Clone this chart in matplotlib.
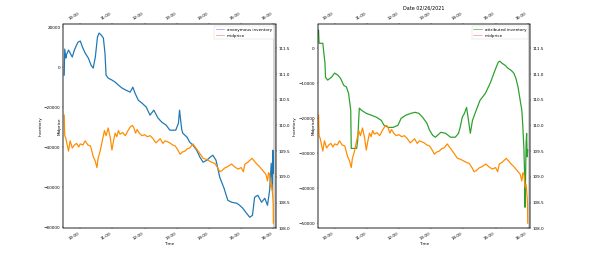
import matplotlib
matplotlib.use("Agg")
import matplotlib.pyplot as plt
import matplotlib.dates as mdates
from matplotlib.lines import Line2D
import pandas as pd

day = "2021-02-26"
close_time = "16:00"

# anonymous inventory (left panel)
anon_times = ["09:30", "09:31", "09:33", "09:34", "09:38", "09:41", "09:45", "09:49", "09:53", "09:56",
              "10:00", "10:04", "10:09", "10:15", "10:20", "10:24", "10:28", "10:32", "10:35", "10:39",
              "10:43", "10:46", "10:48", "10:52", "10:59", "11:05", "11:11", "11:18", "11:25", "11:33",
              "11:38", "11:42", "11:48", "11:55", "12:03", "12:10", "12:17", "12:25", "12:32", "12:40",
              "12:47", "12:58", "13:03", "13:05", "13:09", "13:11", "13:19", "13:24", "13:30", "13:37",
              "13:43", "13:49", "13:56", "14:02", "14:07", "14:13", "14:20", "14:28", "14:35", "14:42",
              "14:52", "14:57", "15:03", "15:10", "15:16", "15:21", "15:25", "15:31", "15:38", "15:44",
              "15:49", "15:53", "15:56", "15:58", "15:59", "16:00"]
anon_inv = [-4000, 9000, 4500, 6000, 8500, 7000, 5000, 8500, 11000, 12500,
            13000, 10000, 7000, 4500, 1000, -500, 5000, 15000, 17000, 16000,
            14500, 7000, -4000, -5500, -6500, -7500, -9000, -10500, -11500, -12500,
            -10000, -13000, -16500, -18000, -20000, -24000, -21500, -25500, -27500, -29000,
            -31500, -31500, -28000, -21500, -31000, -33000, -35000, -37500, -39000, -41500,
            -45000, -47500, -46500, -45000, -44000, -46500, -55000, -60500, -66500, -67500,
            -68000, -69000, -70500, -73000, -75000, -74000, -65000, -64000, -67500, -65500,
            -69000, -61500, -48000, -61500, -41500, -53000]

# attributed inventory (right panel)
attr_times = ["09:30", "09:31", "09:34", "09:38", "09:40", "09:42", "09:43", "09:47", "09:54", "10:00",
              "10:06", "10:11", "10:17", "10:22", "10:26", "10:30", "10:31", "10:41", "10:43", "10:46",
              "10:50", "10:59", "11:08", "11:18", "11:27", "11:32", "11:40", "11:49", "11:58", "12:04",
              "12:13", "12:22", "12:30", "12:37", "12:44", "12:52", "12:57", "13:03", "13:08", "13:18",
              "13:27", "13:36", "13:45", "13:51", "13:54", "13:58", "14:02", "14:06", "14:09", "14:13",
              "14:17", "14:24", "14:31", "14:41", "14:50", "14:59", "15:05", "15:08", "15:12", "15:18",
              "15:23", "15:29", "15:34", "15:38", "15:42", "15:45", "15:49", "15:51", "15:53", "15:54",
              "15:55", "15:56", "15:57", "15:58", "15:59", "16:00"]
attr_inv = [5100, 1400, 1400, 1400, -1500, -4300, -8300, -9100, -8300, -7100,
            -7700, -8600, -10600, -11100, -12900, -17700, -28600, -28600, -26300, -17100,
            -17700, -18600, -19100, -19700, -20600, -22000, -22600, -22600, -22000, -20000,
            -19100, -18600, -18300, -18600, -19700, -21400, -23400, -24900, -25400, -24000,
            -24300, -25400, -25400, -24300, -22600, -19700, -18600, -16900, -20000, -24300,
            -20600, -17700, -14900, -12900, -10000, -6300, -4000, -3700, -4300, -4900,
            -5700, -6300, -7100, -8600, -11100, -14000, -17700, -22600, -29100, -34900,
            -45400, -36900, -27000, -24300, -31000, -29100]

# midprice (both panels)
price_times = ["09:30", "09:31", "09:33", "09:36", "09:38", "09:41", "09:45", "09:49", "09:53", "09:57",
               "10:00", "10:05", "10:09", "10:14", "10:19", "10:24", "10:28", "10:31", "10:33", "10:37",
               "10:41", "10:45", "10:48", "10:52", "10:56", "10:59", "11:02", "11:05", "11:08", "11:11",
               "11:14", "11:19", "11:24", "11:29", "11:33", "11:37", "11:40", "11:43", "11:46", "11:50",
               "11:55", "12:00", "12:05", "12:10", "12:15", "12:21", "12:25", "12:29", "12:34", "12:38",
               "12:43", "12:47", "12:52", "12:57", "13:02", "13:06", "13:10", "13:15", "13:20", "13:24",
               "13:30", "13:34", "13:37", "13:43", "13:49", "13:55", "14:02", "14:06", "14:11", "14:16",
               "14:20", "14:24", "14:29", "14:35", "14:42", "14:47", "14:54", "15:00", "15:04", "15:07",
               "15:12", "15:16", "15:20", "15:25", "15:29", "15:34", "15:38", "15:42", "15:46", "15:49",
               "15:51", "15:53", "15:55", "15:57", "15:59", "15:59:40", "16:00"]
midprice = [110.20, 109.80, 109.75, 109.60, 109.50, 109.70, 109.56, 109.62, 109.65, 109.58,
            109.64, 109.62, 109.70, 109.62, 109.60, 109.40, 109.30, 109.18, 109.35, 109.50,
            109.70, 109.90, 109.80, 109.95, 109.75, 109.52, 109.70, 109.85, 109.78, 109.90,
            109.83, 109.86, 109.80, 109.90, 109.97, 110.00, 109.95, 109.85, 109.92, 109.85,
            109.80, 109.82, 109.78, 109.80, 109.75, 109.66, 109.70, 109.74, 109.65, 109.70,
            109.68, 109.66, 109.62, 109.60, 109.52, 109.44, 109.48, 109.50, 109.55, 109.56,
            109.64, 109.58, 109.54, 109.45, 109.36, 109.34, 109.30, 109.28, 109.26, 109.18,
            109.10, 109.12, 109.17, 109.20, 109.25, 109.20, 109.15, 109.18, 109.10, 109.25,
            109.28, 109.32, 109.36, 109.30, 109.25, 109.20, 109.15, 109.10, 109.05, 108.92,
            109.08, 109.05, 108.80, 108.85, 108.60, 108.45, 108.10]


def to_dt(times):
    return pd.to_datetime([day + " " + t for t in times], format="mixed")


fig, (ax, ax1) = plt.subplots(1, 2, figsize=(20.001, 8.797), dpi=29.45)
fig.subplots_adjust(left=0.1075, right=0.9, bottom=0.1185, top=0.907, wspace=0.197)

x_lo = pd.Timestamp(day + " 09:28:20")
x_hi = pd.Timestamp(day + " 16:04:30")
close = pd.Timestamp(day + " " + close_time)

panels = [
    (ax, anon_times, anon_inv, "#1f77b4", "blue", "anonymous inventory", (-80500, 21500)),
    (ax1, attr_times, attr_inv, "#2ca02c", "green", "attributed inventory", (-51400, 6900)),
]

for i, (a, times, inv, col, leg_col, name, ylim) in enumerate(panels):
    a.plot(to_dt(times), inv, color=col, linewidth=3)
    a.axvspan(close, x_hi, color="#d4d4d4", linewidth=0)
    a.set_ylim(ylim)
    a.set_ylabel("Inventory")
    a.set_xlabel("Time")

    a2 = a.twinx()
    a2.plot(to_dt(price_times), midprice, color="darkorange", linewidth=3)
    a2.set_ylim(108.0, 111.97)
    a2.set_ylabel("Midprice")
    a2.yaxis.set_label_position("left")

    a3 = a.twiny()
    for axis in (a, a3):
        axis.set_xlim(x_lo, x_hi)
        axis.xaxis.set_major_locator(mdates.HourLocator())
        axis.xaxis.set_major_formatter(mdates.DateFormatter("%H:%M"))
    for lab in a.get_xticklabels():
        lab.set_rotation(30)
        lab.set_ha("right")
    for lab in a3.get_xticklabels():
        lab.set_rotation(30)
        lab.set_ha("right")

    handles = [Line2D([0], [0], color=leg_col, alpha=0.5 if i == 0 else 0.7),
               Line2D([0], [0], color="red", alpha=0.5)]
    a3.legend(handles, [name, "midprice"], loc="upper right")

    if i == 1:
        a3.set_title("Date 02/26/2021")

fig.savefig("out.png", dpi=29.45)
